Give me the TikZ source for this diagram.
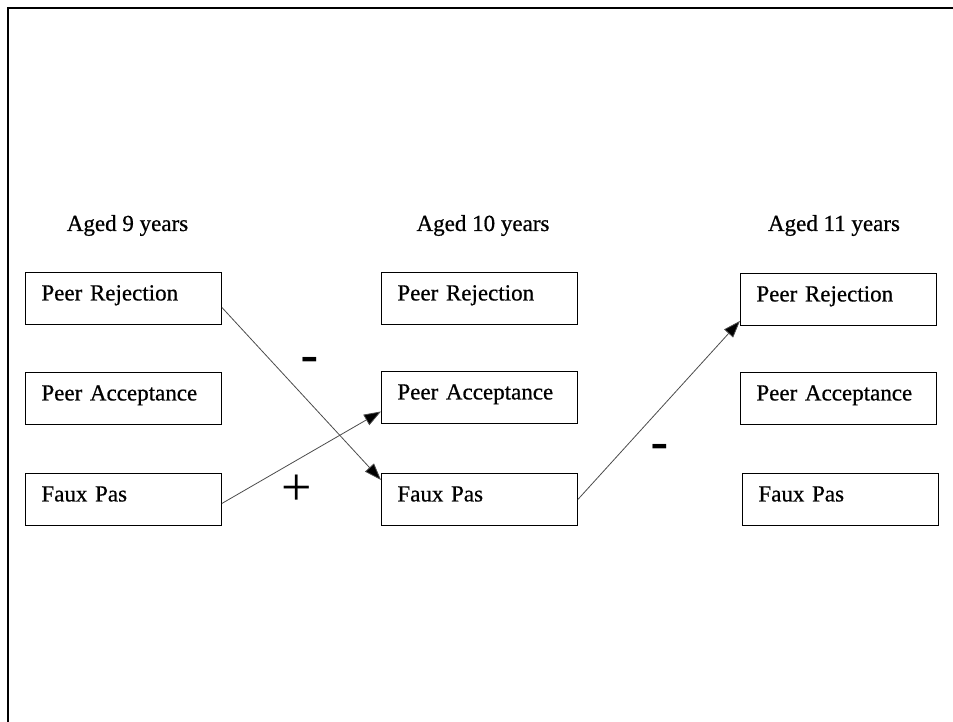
\documentclass[tikz,border=0pt]{standalone}
\usepackage{fontspec}
\setmainfont{Liberation Serif}[FakeBold=0.6]
\newfontfamily\signfont{Liberation Sans}
\newfontfamily\plainserif{Liberation Serif}
\usetikzlibrary{arrows.meta,calc}
\begin{document}
\begin{tikzpicture}[x=1pt,y=-1pt,
  box/.style={draw=black,line width=0.9pt,minimum width=196pt,minimum height=52pt,
    inner xsep=0pt,inner ysep=0pt,text width=164pt,align=left,
    text height=15pt,text depth=11pt,anchor=north west,
    font=\fontsize{23}{27}\selectfont},
  head/.style={anchor=base,inner sep=0pt,font=\fontsize{23}{27}\selectfont},
  conn/.style={draw=black!70,line width=0.8pt,-{Triangle[length=17pt,width=12pt,fill=black]}},
  minus/.style={anchor=base,inner sep=0pt,font=\signfont\fontsize{56}{60}\selectfont},
  plus/.style={anchor=base,inner sep=0pt,font=\plainserif\fontsize{54}{58}\selectfont}]
\useasboundingbox (0,0) rectangle (953,722);
\fill[white] (0,0) rectangle (953,722);
\draw[line width=1.3pt] (8,722) -- (8,8) -- (953,8);
% headings
\node[head] (h1) at (127.5,231) {Aged 9 years};
\node[head] (h2) at (483,231) {Aged 10 years};
\node[head] (h3) at (834,231) {Aged 11 years};
% column 1
\node[box] (pr1) at (25,272) {Peer Rejection};
\node[box] (pa1) at (25,372) {Peer Acceptance};
\node[box] (fp1) at (25,473) {Faux Pas};
% column 2
\node[box] (pr2) at (381,272) {Peer Rejection};
\node[box] (pa2) at (381,371) {Peer Acceptance};
\node[box] (fp2) at (381,473) {Faux Pas};
% column 3
\node[box] (pr3) at (740,273) {Peer Rejection};
\node[box] (pa3) at (740,372) {Peer Acceptance};
\node[box] (fp3) at (742,473) {Faux Pas};
% connectors
\draw[conn] ([yshift=-9pt]pr1.east) -- ([yshift=-7pt]fp2.north west);
\draw[conn] ([yshift=-4pt]fp1.east) -- ([yshift=-14pt]pa2.west);
\draw[conn] (fp2.east) -- ([yshift=5pt]pr3.south west);
% signs
\node[minus] (m1) at (310,374.5) {-};
\node[plus] (p1) at (297,505) {+};
\node[minus] (m2) at (660,461.5) {-};
\end{tikzpicture}
\end{document}
